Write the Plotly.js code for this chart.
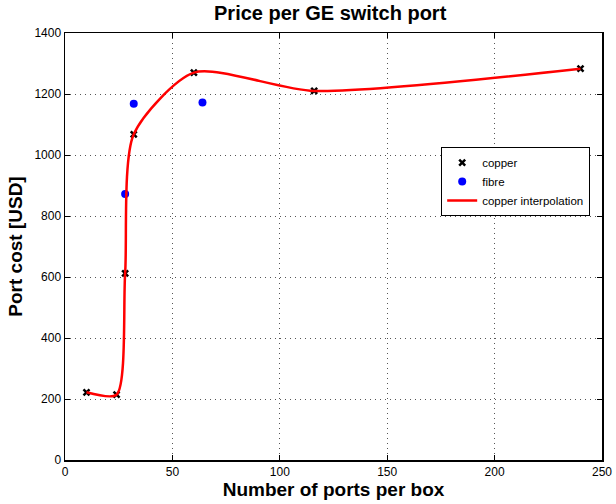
<!DOCTYPE html>
<html><head><meta charset="utf-8">
<script src="https://cdn.plot.ly/plotly-3.0.1.min.js"></script>
<style>body{margin:0;background:#fff}#c{width:616px;height:504px}</style>
</head><body><div id="c"></div>
<script>
const copperPorts = [10, 24, 28, 32, 60, 116, 240];
const copperCost  = [222, 214, 612, 1068, 1270, 1210, 1283];
const fibrePorts  = [28, 32, 64];
const fibreCost   = [872, 1168, 1172];
const xTicks = [0, 50, 100, 150, 200, 250];
const yTicks = [0, 200, 400, 600, 800, 1000, 1200, 1400];

const traces = [
  {x: copperPorts, y: copperCost, mode: 'markers', name: 'copper',
   marker: {symbol: 'x-thin-open', size: 6, color: '#000', line: {width: 2.5, color: '#000'}}},
  {x: fibrePorts, y: fibreCost, mode: 'markers', name: 'fibre',
   marker: {symbol: 'circle', size: 8, color: '#0000ff'}},
  {x: copperPorts, y: copperCost, mode: 'lines', name: 'copper interpolation',
   line: {color: '#ff0000', width: 2.5, shape: 'spline', smoothing: 0.7}}
];
const font = {family: 'Liberation Sans, Arial, sans-serif', color: '#000'};
const layout = {
  width: 616, height: 504,
  margin: {l: 65, r: 14, t: 33, b: 44},
  paper_bgcolor: '#fff', plot_bgcolor: '#fff',
  font: Object.assign({size: 12}, font),
  title: {text: '<b>Price per GE switch port</b>', font: Object.assign({size: 20}, font), xref: 'container', x: 0.536, xanchor: 'center', y: 0.988, yanchor: 'top'},
  xaxis: {range: [0, 250], tickvals: xTicks, ticktext: xTicks.map(String),
    showline: true, linecolor: '#000', linewidth: 1.5, mirror: 'ticks',
    ticks: 'inside', ticklen: 5, tickcolor: '#000',
    showgrid: true, gridcolor: '#555', griddash: '1px,4px', gridwidth: 1, zeroline: false,
    title: {text: '<b>Number of ports per box</b>', font: Object.assign({size: 19}, font), standoff: 1}},
  yaxis: {range: [0, 1400], tickvals: yTicks, ticktext: yTicks.map(String),
    showline: true, linecolor: '#000', linewidth: 1.5, mirror: 'ticks',
    ticks: 'inside', ticklen: 5, tickcolor: '#000',
    showgrid: true, gridcolor: '#555', griddash: '1px,4px', gridwidth: 1, zeroline: false,
    title: {text: '<b>Port cost [USD]</b>', font: Object.assign({size: 19}, font), standoff: 6}},
  legend: {x: 0.978, xanchor: 'right', y: 0.733, yanchor: 'top',
    bgcolor: '#fff', bordercolor: '#000', borderwidth: 1,
    font: Object.assign({size: 11.5}, font), tracegroupgap: 0, itemwidth: 30},
  showlegend: true
};
Plotly.newPlot('c', traces, layout, {displayModeBar: false, staticPlot: true});
</script></body></html>
